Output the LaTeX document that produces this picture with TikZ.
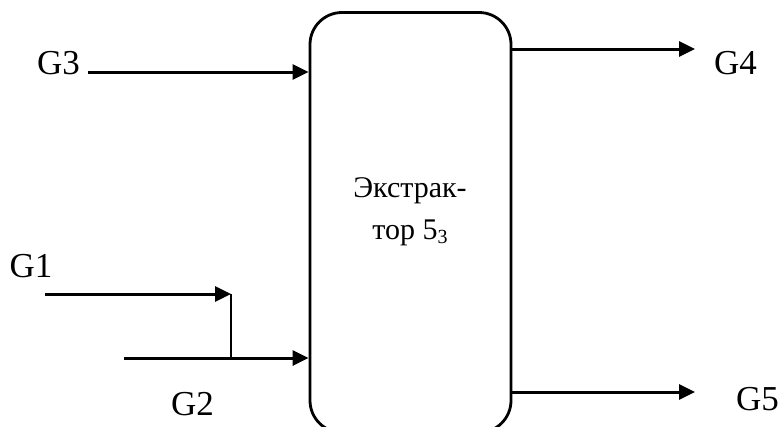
\documentclass[tikz,border=0pt]{standalone}
\usepackage{fontspec}
\setmainfont{Liberation Serif}
\usetikzlibrary{arrows.meta}
\begin{document}
\begin{tikzpicture}[x=1pt,y=-1pt,
  lbl/.style={inner sep=0pt,font=\fontsize{35}{40}\selectfont},
  flow/.style={line width=3pt,-{Triangle[length=16pt,width=15pt]}},
  thin/.style={line width=1.3pt},
  vesselbox/.style={draw,line width=2.8pt,rounded corners=32pt,minimum width=201pt,minimum height=420pt,inner sep=0pt}]
\useasboundingbox (0,0) rectangle (783,426);
% vessel
\node[vesselbox] (vessel) at (410.5,222.5) {};
\node[align=center,inner sep=0pt,font=\fontsize{30}{42}\selectfont] (vtext) at (410,212)
  {Экстрак-\\тор 5\raisebox{-0.3ex}{\fontsize{20}{20}\selectfont 3}};
% labels
\node[lbl] (g3) at (58.5,63.5) {G3};
\node[lbl] (g1) at (31,266.5) {G1};
\node[lbl] (g2) at (192.5,404) {G2};
\node[lbl] (g4) at (735.5,63.5) {G4};
\node[lbl] (g5) at (757.5,399) {G5};
% coordinates
\coordinate (g3s) at (88,72);
\coordinate (g1s) at (45,294);
\coordinate (g1e) at (231,294);
\coordinate (g2s) at (124,358);
\coordinate (mix) at (231,358);
\coordinate (g4e) at (695,49);
\coordinate (g5e) at (695,392);
% connectors
\draw[flow] (g3s) -- (g3s -| vessel.west);
\draw[flow] (g1s) -- (g1e);
\draw[thin] (g1e) -- (mix);
\draw[flow] (g2s) -- (g2s -| vessel.west);
\draw[flow] (g4e -| vessel.east) -- (g4e);
\draw[flow] (g5e -| vessel.east) -- (g5e);
\end{tikzpicture}
\end{document}
